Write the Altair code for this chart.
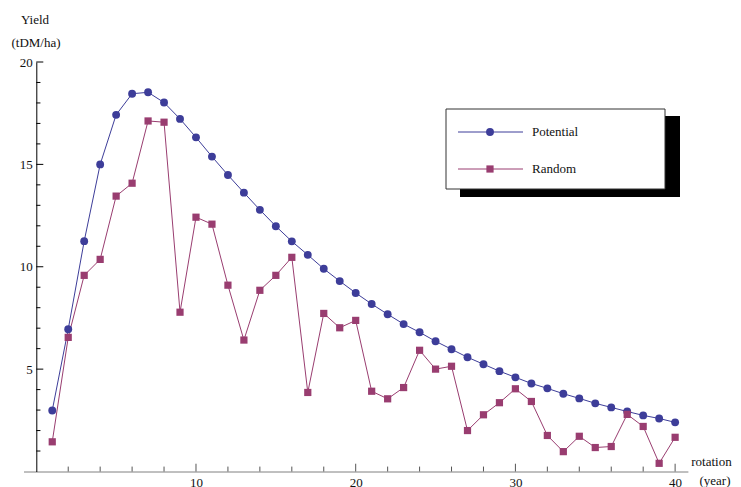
import altair as alt
import pandas as pd

# ---- data ----
years = list(range(1, 41))
potential = [2.98, 6.95, 11.25, 15.0, 17.42, 18.45, 18.52, 18.02, 17.22, 16.32,
             15.38, 14.48, 13.62, 12.78, 11.98, 11.24, 10.58, 9.9, 9.3, 8.72,
             8.18, 7.68, 7.2, 6.8, 6.36, 5.97, 5.58, 5.24, 4.9, 4.6,
             4.3, 4.06, 3.8, 3.57, 3.33, 3.13, 2.93, 2.74, 2.59, 2.4]
random_ = [1.45, 6.55, 9.58, 10.36, 13.45, 14.08, 17.12, 17.06, 7.78, 12.42,
           12.08, 9.1, 6.42, 8.85, 9.58, 10.46, 3.86, 7.72, 7.02, 7.38,
           3.92, 3.55, 4.1, 5.92, 5.0, 5.14, 2.0, 2.77, 3.36, 4.04,
           3.42, 1.76, 0.97, 1.72, 1.17, 1.22, 2.79, 2.2, 0.4, 1.67]
series_names = ["Potential", "Random"]
colors = ["#3d3d99", "#993d70"]

x_major = [10, 20, 30, 40]
x_minor = [v for v in range(2, 40, 2) if v % 10 != 0]
y_major = [5, 10, 15, 20]
y_minor = [v for v in range(1, 20) if v % 5 != 0]

FONT = "Liberation Serif"

# ---- layout (pixels on the page) ----
ORIGIN_X, ORIGIN_Y = 23.5, 62.0      # top-left of plot area on page
W, H = 664.4, 409.5
X_DOM = [-0.8, 40.8]
Y_DOM = [0, 20]


def px(x):
    return x - ORIGIN_X


def py(y):
    return y - ORIGIN_Y


df = pd.DataFrame({
    "year": years * 2,
    "yield": potential + random_,
    "series": [series_names[0]] * 40 + [series_names[1]] * 40,
})

xs = alt.Scale(domain=X_DOM, nice=False, zero=False)
ys = alt.Scale(domain=Y_DOM, nice=False)

x_enc = alt.X("year:Q", scale=xs,
              axis=alt.Axis(values=x_major, ticks=False, tickSize=0, grid=False,
                            labelPadding=5, labelFontSize=13, labelFont=FONT,
                            labelColor="#111", domainColor="#808080", title=None,
                            labelFlush=False))
y_enc = alt.Y("yield:Q", scale=ys,
              axis=alt.Axis(values=y_major, ticks=False, tickSize=0, grid=False,
                            offset=-12.8, labelPadding=4, labelFontSize=13,
                            labelFont=FONT, labelColor="#111", domainColor="#000",
                            title=None))

pot = df[df.series == "Potential"]
ran = df[df.series == "Random"]

base_axes = alt.Chart(df).mark_point(opacity=0).encode(x=x_enc, y=y_enc)

line_p = alt.Chart(pot).mark_line(color=colors[0], strokeWidth=1).encode(
    x=alt.X("year:Q", scale=xs), y=alt.Y("yield:Q", scale=ys))
pts_p = alt.Chart(pot).mark_point(color=colors[0], filled=True, opacity=1,
                                  shape="circle", size=62).encode(
    x=alt.X("year:Q", scale=xs), y=alt.Y("yield:Q", scale=ys))
line_r = alt.Chart(ran).mark_line(color=colors[1], strokeWidth=1).encode(
    x=alt.X("year:Q", scale=xs), y=alt.Y("yield:Q", scale=ys))
pts_r = alt.Chart(ran).mark_point(color=colors[1], filled=True, opacity=1,
                                  shape="square", size=52).encode(
    x=alt.X("year:Q", scale=xs), y=alt.Y("yield:Q", scale=ys))

# ---- manual inward ticks ----
def yticks(vals, length):
    d = pd.DataFrame({"v": vals, "a": 0.0, "b": length})
    return alt.Chart(d).mark_rule(color="#000", strokeWidth=1).encode(
        y=alt.Y("v:Q", scale=ys), x=alt.X("a:Q", scale=xs), x2="b:Q")


def xticks(vals, length):
    d = pd.DataFrame({"v": vals, "a": 0.0, "b": length})
    return alt.Chart(d).mark_rule(color="#555", strokeWidth=1).encode(
        x=alt.X("v:Q", scale=xs), y=alt.Y("a:Q", scale=ys), y2="b:Q")


ticks = [yticks(y_major, 0.44), yticks(y_minor, 0.26),
         xticks(x_major, 0.38), xticks(x_minor, 0.24)]

# ---- axis titles ----
def label(text, x, y, size=13):
    return alt.Chart(pd.DataFrame({"t": [text]})).mark_text(
        font=FONT, fontSize=size, color="#111", align="center", baseline="middle"
    ).encode(text="t:N", x=alt.value(px(x)), y=alt.value(py(y)))


titles = [label("Yield", 35, 20), label("(tDM/ha)", 36, 43),
          label("rotation", 711.5, 462), label("(year)", 715, 481)]

# ---- legend with drop shadow ----
def rect(x1, x2, y1, y2, fill, stroke=None):
    kw = dict(fill=fill)
    if stroke:
        kw.update(stroke=stroke, strokeWidth=1)
    return alt.Chart(pd.DataFrame({"a": [0]})).mark_rect(**kw).encode(
        x=alt.value(px(x1)), x2=alt.value(px(x2)),
        y=alt.value(py(y1)), y2=alt.value(py(y2)))


legend = [rect(460, 680, 116, 197, "#000"),
          rect(446, 665, 109, 189, "#fff", "#333")]
for name, col, shape, size, yy in [(series_names[0], colors[0], "circle", 62, 132),
                                  (series_names[1], colors[1], "square", 52, 169)]:
    one = pd.DataFrame({"t": [name]})
    legend.append(alt.Chart(one).mark_rule(color=col, strokeWidth=1).encode(
        x=alt.value(px(458)), x2=alt.value(px(523)), y=alt.value(py(yy))))
    legend.append(alt.Chart(one).mark_point(color=col, filled=True, opacity=1,
                                            shape=shape, size=size).encode(
        x=alt.value(px(490)), y=alt.value(py(yy))))
    legend.append(alt.Chart(one).mark_text(font=FONT, fontSize=13, color="#111",
                                           align="left", baseline="middle").encode(
        text="t:N", x=alt.value(px(532)), y=alt.value(py(yy))))

chart = alt.layer(base_axes, *ticks, line_p, line_r, pts_p, pts_r, *titles, *legend
                  ).properties(
    width=W, height=H,
    background="white",
    padding={"left": ORIGIN_X - 8, "top": ORIGIN_Y - 8,
             "right": 733 - ORIGIN_X - W, "bottom": 24},
    autosize=alt.AutoSizeParams(type="none"),
).configure_view(strokeWidth=0, stroke="transparent")

chart.save("out.html", embed_options={"renderer": "svg", "actions": False})
